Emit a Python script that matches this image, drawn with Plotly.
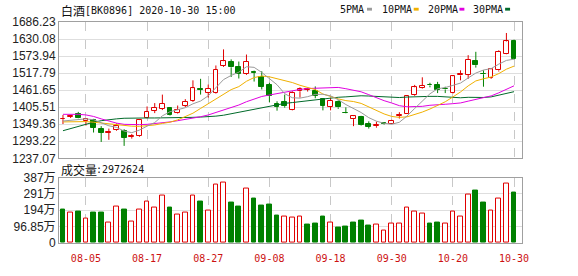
import plotly.graph_objects as go

# ---------------- data ----------------
dates = ["07-31",
         "08-03", "08-04", "08-05", "08-06", "08-07", "08-10", "08-11", "08-12", "08-13", "08-14",
         "08-17", "08-18", "08-19", "08-20", "08-21", "08-24", "08-25", "08-26", "08-27", "08-28", "08-31",
         "09-01", "09-02", "09-03", "09-04", "09-07", "09-08", "09-09", "09-10", "09-11",
         "09-14", "09-15", "09-16", "09-17", "09-18", "09-21", "09-22", "09-23", "09-24", "09-25",
         "09-28", "09-29", "09-30",
         "10-09", "10-12", "10-13", "10-14", "10-15", "10-16", "10-19", "10-20", "10-21", "10-22",
         "10-23", "10-26", "10-27", "10-28", "10-29", "10-30"]

open_ = [1366, 1374, 1383, 1359, 1362, 1335, 1321, 1331, 1328, 1307,
         1311, 1371, 1393, 1401, 1402, 1385, 1411, 1426, 1465, 1453,
         1452, 1541, 1554, 1538, 1515, 1522, 1505, 1479, 1417, 1421,
         1397, 1458, 1462, 1458, 1432, 1407, 1424, 1387, 1366, 1372,
         1351, 1343, 1352, 1351, 1376, 1384, 1447, 1468, 1479, 1480,
         1466, 1452, 1510, 1513, 1558, 1516, 1502, 1527, 1582, 1624]
high = [1380, 1380, 1390, 1369, 1367, 1343, 1335, 1352, 1333, 1317,
        1365, 1408, 1419, 1447, 1404, 1411, 1432, 1494, 1499, 1480,
        1543, 1596, 1563, 1556, 1579, 1526, 1524, 1486, 1425, 1447,
        1458, 1471, 1469, 1474, 1434, 1436, 1428, 1405, 1377, 1377,
        1359, 1358, 1355, 1364, 1389, 1444, 1479, 1504, 1486, 1489,
        1473, 1508, 1527, 1577, 1588, 1527, 1533, 1593, 1650, 1628]
low = [1350, 1370, 1369, 1345, 1322, 1291, 1298, 1328, 1278, 1302,
       1308, 1369, 1386, 1396, 1378, 1383, 1406, 1423, 1447, 1437,
       1450, 1538, 1505, 1500, 1512, 1490, 1464, 1422, 1394, 1404,
       1395, 1437, 1457, 1435, 1395, 1395, 1400, 1384, 1343, 1345,
       1335, 1338, 1348, 1350, 1368, 1383, 1443, 1466, 1471, 1452,
       1452, 1450, 1494, 1499, 1536, 1473, 1499, 1523, 1580, 1563]
close = [1368, 1378, 1371, 1366, 1338, 1321, 1325, 1345, 1305, 1312,
         1363, 1390, 1404, 1416, 1380, 1396, 1423, 1468, 1462, 1466,
         1529, 1557, 1537, 1515, 1556, 1519, 1473, 1442, 1407, 1409,
         1452, 1467, 1466, 1444, 1411, 1426, 1405, 1385, 1376, 1348,
         1341, 1347, 1350, 1361, 1380, 1444, 1471, 1476, 1477, 1463,
         1464, 1507, 1514, 1561, 1544, 1514, 1530, 1588, 1622, 1565]

ma5 = [1360, 1363, 1366, 1367, 1364.2, 1354.8, 1344.2, 1339.0, 1326.8, 1321.6,
       1330.0, 1343.0, 1354.8, 1377.0, 1390.6, 1397.2, 1403.8, 1416.6, 1425.8, 1443.0,
       1469.6, 1496.4, 1510.2, 1520.8, 1538.8, 1536.8, 1520.0, 1501.0, 1479.4, 1450.0,
       1436.6, 1435.4, 1440.2, 1447.6, 1448.0, 1442.8, 1430.4, 1414.2, 1400.6, 1388.0,
       1371.0, 1359.4, 1352.4, 1349.4, 1355.8, 1376.4, 1401.2, 1426.4, 1449.6, 1466.2,
       1470.2, 1477.4, 1485.0, 1501.8, 1518.0, 1528.0, 1532.6, 1547.4, 1559.6, 1563.8]
ma10 = [1357, 1358, 1358, 1358, 1356, 1353, 1350, 1347, 1344, 1342.9,
        1342.4, 1343.6, 1346.9, 1351.9, 1356.1, 1363.6, 1373.4, 1385.7, 1401.4, 1416.8,
        1433.4, 1450.1, 1463.4, 1473.3, 1490.9, 1503.2, 1508.2, 1505.6, 1500.1, 1494.4,
        1486.7, 1477.7, 1470.6, 1463.5, 1449.0, 1439.7, 1432.9, 1427.2, 1424.1, 1418.0,
        1406.9, 1394.9, 1383.3, 1375.0, 1371.9, 1373.7, 1380.3, 1389.4, 1399.5, 1411.0,
        1423.3, 1439.3, 1455.7, 1475.7, 1492.1, 1499.1, 1505.0, 1516.2, 1530.7, 1540.9]
ma20 = [1382, 1383, 1382, 1380, 1375, 1367, 1359, 1353, 1349, 1348,
        1348, 1349, 1351, 1354, 1357, 1361, 1365, 1369, 1374, 1379.9,
        1387.9, 1396.9, 1405.2, 1412.6, 1423.5, 1433.4, 1440.8, 1445.7, 1450.8, 1455.6,
        1460.1, 1463.9, 1467.0, 1468.4, 1470.0, 1471.5, 1470.6, 1466.4, 1462.1, 1456.2,
        1446.8, 1436.3, 1427.0, 1419.3, 1410.5, 1406.7, 1406.6, 1408.3, 1411.8, 1414.5,
        1415.1, 1417.1, 1419.5, 1425.4, 1432.0, 1436.4, 1442.7, 1452.8, 1465.1, 1476.0]
ma30 = [1328, 1335, 1342, 1350, 1356, 1361, 1365, 1367, 1369, 1370,
        1370, 1370, 1370, 1370, 1370, 1370, 1371, 1372, 1373, 1374,
        1376, 1379, 1384, 1389, 1394, 1399, 1404, 1409, 1414, 1418.0,
        1420.8, 1423.8, 1427.0, 1429.6, 1432.0, 1435.5, 1438.2, 1439.5, 1441.9, 1443.1,
        1442.3, 1440.9, 1439.1, 1437.3, 1437.3, 1438.9, 1440.5, 1440.7, 1441.2, 1441.1,
        1439.0, 1437.3, 1436.5, 1438.1, 1437.7, 1437.5, 1439.4, 1444.3, 1451.4, 1456.6]

# volume in 万 (10 000)
volume_wan = [196.5, 179.7, 185.3, 146.0, 179.7, 179.7, 123.5, 217.0, 196.5, 129.0,
              200.0, 245.0, 211.5, 280.7, 207.7, 168.4, 179.7, 280.7, 247.0, 191.0,
              348.0, 359.3, 241.4, 213.4, 320.0, 263.9, 224.6, 230.2, 162.8, 157.2,
              151.6, 157.2, 106.7, 112.3, 157.2, 123.5, 89.8, 95.4, 123.5, 134.7,
              101.0, 106.7, 73.0, 117.9, 117.9, 207.7, 185.3, 174.0, 117.9, 123.5,
              112.3, 185.3, 157.2, 286.3, 308.8, 241.4, 191.0, 263.9, 353.7, 297.2624]
volume_up = [0, 1, 0, 1, 0, 0, 1, 1, 0, 1,
             1, 1, 1, 1, 0, 1, 1, 1, 0, 1,
             1, 1, 0, 0, 1, 0, 0, 0, 0, 1,
             1, 1, 0, 0, 0, 1, 0, 0, 0, 0,
             0, 1, 1, 1, 1, 1, 1, 1, 0, 0,
             1, 1, 1, 1, 0, 0, 1, 1, 1, 0]

label_dates = ["08-05", "08-17", "08-27", "09-08", "09-18", "09-30", "10-20", "10-30"]
price_ticks = [1237.07, 1293.22, 1349.36, 1405.51, 1461.65, 1517.79, 1573.94, 1630.08, 1686.23]
vol_ticks = [0, 968500, 1937000, 2905500, 3874000]
vol_tick_text = ["0", "96.85万", "194万", "291万", "387万"]
last_volume = 2972624

# ---------------- styling ----------------
RED = "#e00000"
GREEN = "#008000"
MA_COLORS = {"5PMA": "#9a9a9a", "10PMA": "#f0b000", "20PMA": "#e000e0", "30PMA": "#006a2a"}
W, H = 578, 276
L, R, T, B = 56, 56, 22, 21
PW, PH = W - L - R, H - T - B


def px_x(px):
    return (px - L) / PW


def px_y(py):
    return (H - B - py) / PH


x = list(range(len(dates)))
tick_idx = [dates.index(d) for d in label_dates]

fig = go.Figure()

# wicks (drawn outside of the bodies)
for colr, is_up in ((RED, True), (GREEN, False)):
    wx, wy = [], []
    for i in x:
        up = close[i] > open_[i]
        if up != is_up:
            continue
        top, bot = max(open_[i], close[i]), min(open_[i], close[i])
        wx += [i, i, None, i, i, None]
        wy += [high[i], top, None, bot, low[i], None]
    fig.add_trace(go.Scatter(x=wx, y=wy, mode="lines", line=dict(color=colr, width=1),
                             hoverinfo="skip", xaxis="x", yaxis="y"))

# bodies
ux = [i for i in x if close[i] > open_[i]]
dx = [i for i in x if close[i] <= open_[i]]
fig.add_trace(go.Bar(x=ux, base=[open_[i] for i in ux],
                     y=[max(close[i] - open_[i], 1.5) for i in ux],
                     width=0.62, marker=dict(color="white", line=dict(color=RED, width=1)),
                     xaxis="x", yaxis="y"))
fig.add_trace(go.Bar(x=dx, base=[close[i] for i in dx],
                     y=[max(open_[i] - close[i], 1.5) for i in dx],
                     width=0.62, marker=dict(color=GREEN, line=dict(color=GREEN, width=1)),
                     xaxis="x", yaxis="y"))

# moving averages
for name, vals in (("30PMA", ma30), ("20PMA", ma20), ("10PMA", ma10), ("5PMA", ma5)):
    fig.add_trace(go.Scatter(x=x, y=vals, mode="lines", name=name,
                             line=dict(color=MA_COLORS[name], width=1),
                             xaxis="x", yaxis="y"))

# volume
vux = [i for i in x if volume_up[i]]
vdx = [i for i in x if not volume_up[i]]
fig.add_trace(go.Bar(x=vux, y=[volume_wan[i] * 10000 for i in vux], width=0.62,
                     marker=dict(color="white", line=dict(color=RED, width=1)),
                     xaxis="x2", yaxis="y2"))
fig.add_trace(go.Bar(x=vdx, y=[volume_wan[i] * 10000 for i in vdx], width=0.62,
                     marker=dict(color=GREEN, line=dict(color=GREEN, width=1)),
                     xaxis="x2", yaxis="y2"))

xr = [-0.52, 60.04]
axis_common = dict(showline=True, mirror=True, linecolor="#a0a0a0", linewidth=1,
                   zeroline=False, ticks="", fixedrange=True)

fig.update_layout(
    width=W, height=H,
    margin=dict(l=L, r=R, t=T, b=B, pad=0),
    paper_bgcolor="white", plot_bgcolor="white",
    showlegend=False, barmode="overlay", bargap=0,
    xaxis=dict(domain=[0, 1], anchor="y", range=xr, tickvals=tick_idx, showticklabels=False,
               showgrid=True, gridcolor="#c8c8c8", griddash="dash", gridwidth=1, **axis_common),
    yaxis=dict(domain=[px_y(165.7), 1], anchor="x", range=[price_ticks[0], price_ticks[-1]],
               tickvals=price_ticks, ticktext=[f"{v:.2f}" for v in price_ticks],
               tickfont=dict(family="Liberation Sans, Arial", size=12, color="#222222"),
               showgrid=True, gridcolor="#dedede", gridwidth=1, **axis_common),
    xaxis2=dict(domain=[0, 1], anchor="y2", range=xr, tickvals=tick_idx, ticktext=label_dates,
                tickfont=dict(family="DejaVu Sans Mono", size=10, color="#cc1111"),
                ticklabelstandoff=6,
                showgrid=True, gridcolor="#c8c8c8", griddash="dash", gridwidth=1, **axis_common),
    yaxis2=dict(domain=[0, px_y(186)], anchor="x2", range=[0, vol_ticks[-1]],
                tickvals=vol_ticks, ticktext=vol_tick_text,
                tickfont=dict(family="Liberation Sans, Noto Sans CJK SC", size=12, color="#222222"),
                showgrid=True, gridcolor="#dedede", gridwidth=1, **axis_common),
)

ann = []


def text(px, py, s, family, size, color="#111111"):
    ann.append(dict(x=px_x(px), y=px_y(py), xref="paper", yref="paper", text=s,
                    showarrow=False, xanchor="left", yanchor="middle",
                    font=dict(family=family, size=size, color=color)))


text(56, 9.5, "白酒", "Noto Sans CJK SC", 12)
text(80, 9.5, "[BK0896] 2020-10-30 15:00", "DejaVu Sans Mono", 10)
text(56, 177.5, "成交量", "Noto Sans CJK SC", 12)
text(91, 177.5, f":{last_volume}", "DejaVu Sans Mono", 10)

shapes = []
legend_pos = [("5PMA", 337, 366), ("10PMA", 379, 413), ("20PMA", 425, 459), ("30PMA", 471, 505)]
for name, tx, mx in legend_pos:
    text(tx, 8.5, name, "DejaVu Sans Mono", 10)
    shapes.append(dict(type="rect", xref="paper", yref="paper",
                       x0=px_x(mx), x1=px_x(mx + 5), y0=px_y(10), y1=px_y(7),
                       fillcolor=MA_COLORS[name], line=dict(width=0)))

fig.update_layout(annotations=ann, shapes=shapes)
fig.write_html("out.html")
